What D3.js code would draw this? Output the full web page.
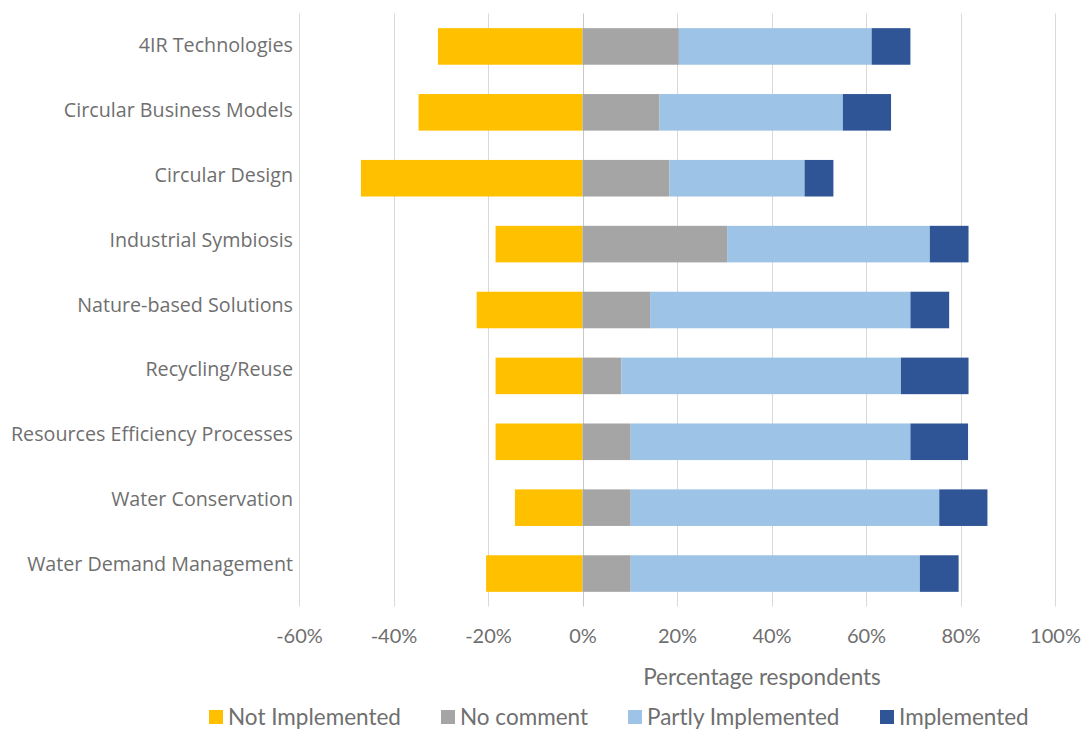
<!DOCTYPE html>
<html>
<head>
<meta charset="utf-8">
<script src="https://cdn.jsdelivr.net/npm/d3@7"></script>
<style>
  html, body { margin: 0; padding: 0; background: #fff; }
  svg { display: block; }
</style>
</head>
<body>
<svg id="chart" width="1084" height="729"></svg>
<script>
const categories = [
  "4IR Technologies",
  "Circular Business Models",
  "Circular Design",
  "Industrial Symbiosis",
  "Nature-based Solutions",
  "Recycling/Reuse",
  "Resources Efficiency Processes",
  "Water Conservation",
  "Water Demand Management"
];
const seriesNames = ["Not Implemented", "No comment", "Partly Implemented", "Implemented"];
// percentage of respondents (Not Implemented shown to the left of 0)
const notImplemented    = [30.6, 34.7, 46.9, 18.4, 22.4, 18.4, 18.4, 14.3, 20.4];
const noComment         = [20.4, 16.3, 18.4, 30.6, 14.3,  8.2, 10.2, 10.2, 10.2];
const partlyImplemented = [40.8, 38.8, 28.6, 42.9, 55.1, 59.2, 59.2, 65.3, 61.2];
const implemented       = [ 8.2, 10.2,  6.1,  8.2,  8.2, 14.3, 12.2, 10.2,  8.2];
const tickValues = [-60, -40, -20, 0, 20, 40, 60, 80, 100];
const axisTitle = "Percentage respondents";
const colors = ["#FFC000", "#A5A5A5", "#9DC3E6", "#2F5597"];

const svg = d3.select("#chart");
const plot = { left: 299, right: 1055, top: 13.5, bottom: 606.5 };

const x = d3.scaleLinear().domain([-60, 100]).range([plot.left, plot.right]);
const y = d3.scaleBand().domain(categories).range([plot.top, plot.bottom]).paddingInner(0.445).paddingOuter(0.2225);
// label positions (category axis text)
const yLabel = d3.scaleBand().domain(categories).range([13.6, 596.8]);

const rows = categories.map((c, i) => ({
  cat: c,
  [seriesNames[0]]: -notImplemented[i],
  [seriesNames[1]]: noComment[i],
  [seriesNames[2]]: partlyImplemented[i],
  [seriesNames[3]]: implemented[i]
}));
const stack = d3.stack().keys(seriesNames).offset(d3.stackOffsetDiverging);
const stacked = stack(rows);

// gridlines
svg.append("g")
  .selectAll("line")
  .data(tickValues)
  .join("line")
  .attr("x1", d => Math.round(x(d)) + 0.5)
  .attr("x2", d => Math.round(x(d)) + 0.5)
  .attr("y1", plot.top)
  .attr("y2", plot.bottom)
  .attr("stroke", d => d === 0 ? "#c8c8c8" : "#d9d9d9")
  .attr("stroke-width", 1);

// bars
svg.append("g")
  .selectAll("g")
  .data(stacked)
  .join("g")
  .attr("fill", (d, i) => colors[i])
  .selectAll("rect")
  .data(d => d)
  .join("rect")
  .attr("x", d => x(Math.min(d[0], d[1])))
  .attr("width", d => Math.abs(x(d[1]) - x(d[0])))
  .attr("y", d => y(d.data.cat))
  .attr("height", y.bandwidth());

// category labels
const yAxis = d3.axisLeft(yLabel).tickSize(0).tickPadding(6);
const gy = svg.append("g").attr("transform", `translate(${plot.left},0)`).call(yAxis);
gy.select(".domain").remove();
gy.selectAll("text")
  .attr("font-family", "'Open Sans', sans-serif")
  .attr("font-size", 19.7)
  .attr("fill", "#6f6f6f");

// x axis tick labels
const xAxis = d3.axisBottom(x).tickValues(tickValues).tickSize(0).tickPadding(0)
  .tickFormat(d => d + "%");
const gx = svg.append("g").attr("transform", `translate(0,${plot.bottom + 22})`).call(xAxis);
gx.select(".domain").remove();
gx.selectAll("text")
  .attr("font-family", "Lato, 'Open Sans', sans-serif")
  .attr("font-size", 20)
  .attr("fill", "#6f6f6f");

// axis title
svg.append("text")
  .attr("x", 762)
  .attr("y", 685)
  .attr("text-anchor", "middle")
  .attr("font-family", "Lato, 'Open Sans', sans-serif")
  .attr("font-size", 22.5)
  .attr("fill", "#6f6f6f")
  .text(axisTitle);

// legend
const legendX = [209, 441, 628, 880];
const lg = svg.append("g").selectAll("g")
  .data(seriesNames)
  .join("g")
  .attr("transform", (d, i) => `translate(${legendX[i]},710)`);
lg.append("rect")
  .attr("x", 0).attr("y", 0)
  .attr("width", 14).attr("height", 14)
  .attr("fill", (d, i) => colors[i]);
lg.append("text")
  .attr("x", 19).attr("y", 14.5)
  .attr("font-family", "Lato, 'Open Sans', sans-serif")
  .attr("font-size", 22.5)
  .attr("fill", "#6f6f6f")
  .text(d => d);
</script>
</body>
</html>
